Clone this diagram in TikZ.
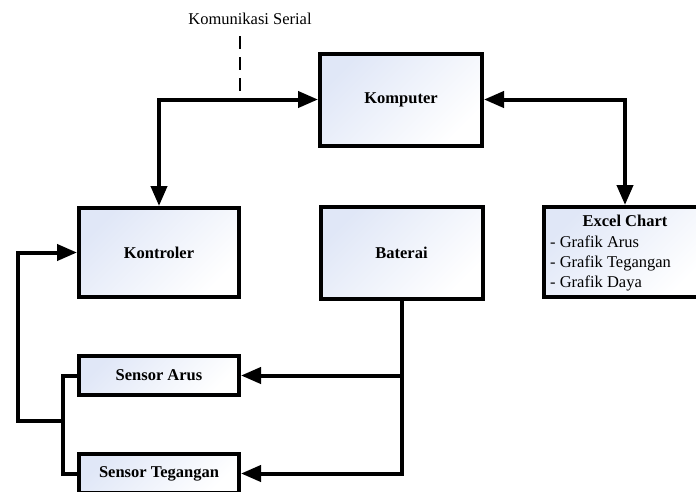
\documentclass[tikz,border=0pt]{standalone}
\usepackage{fontspec}
\setmainfont{Liberation Serif}
\usetikzlibrary{arrows.meta,calc}
\definecolor{boxblue}{RGB}{224,231,247}
\begin{document}
\begin{tikzpicture}[x=1pt,y=-1pt,
  blk/.style={draw=black, line width=4pt, top color=boxblue, bottom color=white,
    shading angle=45, inner sep=0pt, font=\fontsize{16.5}{20}\selectfont\bfseries},
  conn/.style={line width=4pt},
  arr/.style={conn, -{Triangle[length=20pt,width=16pt]}},
  darr/.style={conn, {Triangle[length=20pt,width=16pt]}-{Triangle[length=20pt,width=16pt]}},
  txt/.style={inner sep=0pt, font=\fontsize{16.5}{20}\selectfont},
]
\useasboundingbox (0,0) rectangle (696,491);

\node[blk, minimum width=162pt, minimum height=92pt] (komp) at (401,99.5) {Komputer};
\node[blk, minimum width=160pt, minimum height=89pt] (kont) at (159,252.5) {Kontroler};
\node[blk, minimum width=162pt, minimum height=92pt] (bat) at (401.5,253) {Baterai};
\node[blk, minimum width=162pt, minimum height=90pt] (excel) at (625,252) {};
\node[blk, minimum width=160pt, minimum height=39pt] (sa) at (159,375.5) {Sensor Arus};
\node[blk, minimum width=160pt, minimum height=39pt] (st) at (159,473.5) {Sensor Tegangan};

\node[txt, font=\fontsize{16.5}{20}\selectfont\bfseries, anchor=base] (exct) at (625,226) {Excel Chart};
\node[txt, anchor=base west] (ex1) at (550,247) {- Grafik Arus};
\node[txt, anchor=base west] (ex2) at (550,267) {- Grafik Tegangan};
\node[txt, anchor=base west] (ex3) at (550,287) {- Grafik Daya};

\node[txt, anchor=base] (serial) at (250,24) {Komunikasi Serial};
\coordinate (dashtop) at (240,36);
\draw[line width=2pt, dash pattern=on 13pt off 8pt] (dashtop) -- (dashtop |- komp.west);

\draw[darr] (komp.west) -| (kont.north);
\draw[darr] (komp.east) -| (excel.north);

\coordinate (bj) at (bat.south |- sa.east);
\draw[arr] (bat.south) |- (st.east);
\draw[arr] (bj) -- (sa.east);

\coordinate (la) at ([xshift=-14pt]sa.west);
\draw[conn] (sa.west) -- (la) |- (st.west);
\coordinate (lj) at (63,421);
\coordinate (lo) at (18,421);
\draw[arr] (lj) -- (lo) |- (kont.west);
\end{tikzpicture}
\end{document}
